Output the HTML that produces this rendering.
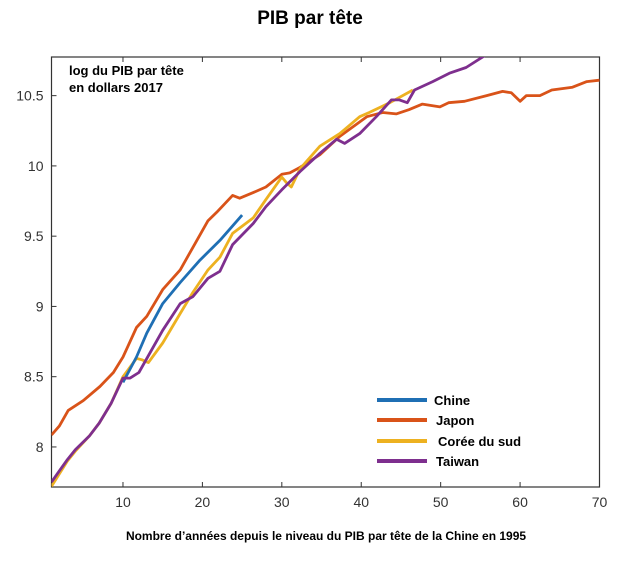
<!DOCTYPE html>
<html><head><meta charset="utf-8"><style>
body{margin:0;background:#fff;}
svg{display:block;font-family:"Liberation Sans",Arial,sans-serif;}
</style></head><body>
<svg id="chart" width="620" height="562" viewBox="0 0 620 562">
<text x="310" y="24" text-anchor="middle" font-size="19" font-weight="bold">PIB par tête</text>
<rect x="51.5" y="57" width="548" height="430" fill="none" stroke="#333" stroke-width="1.2"/>
<text x="69" y="75" font-size="13" font-weight="bold">log du PIB par tête</text>
<text x="69" y="92" font-size="13" font-weight="bold">en dollars 2017</text>
<g id="axes"></g>
<g id="series"></g>
<g id="legend"></g>
<text x="326" y="540" text-anchor="middle" font-size="12" font-weight="bold">Nombre d’années depuis le niveau du PIB par tête de la Chine en 1995</text>
</svg>
<script>
const xTicks=[10,20,30,40,50,60,70];
const yTicks=[8,8.5,9,9.5,10,10.5];
const yTickLabels=["8","8.5","9","9.5","10","10.5"];
const seriesNames=["Chine","Japon","Corée du sud","Taiwan"];
const seriesColors=["#1f6fb4","#d95319","#edb120","#7e2f8e"];
const chinaX=[10,11.7,13,15,17.2,19.7,22.2,25];
const chinaY=[8.46,8.64,8.81,9.02,9.17,9.33,9.47,9.65];
const japanX=[1,2,3.1,5,7.1,8.8,10,11.7,13,15,17.2,18.8,20.7,21.8,23.8,24.7,26.4,28,30,31,32.3,34.8,37.3,40.7,42.7,44.4,46,47.7,49.9,51,53,55.8,57.8,58.9,60,60.8,62.5,64,66.6,68.4,70];
const japanY=[8.085,8.15,8.26,8.33,8.43,8.53,8.64,8.85,8.93,9.12,9.26,9.42,9.61,9.67,9.79,9.77,9.81,9.85,9.94,9.95,9.99,10.08,10.21,10.35,10.38,10.37,10.4,10.44,10.42,10.45,10.46,10.5,10.53,10.52,10.46,10.5,10.5,10.54,10.56,10.6,10.61];
const koreaX=[1,2,3,4,5.8,7,8.5,10,11.7,12.4,13.2,15,17.2,18.8,20.7,22.2,23.8,26.4,28,30,30.6,31.2,32.3,34.8,37.3,39.8,41,43.6,46.5];
const koreaY=[7.72,7.81,7.9,7.97,8.08,8.17,8.31,8.5,8.63,8.62,8.6,8.74,8.95,9.1,9.26,9.35,9.52,9.63,9.76,9.92,9.88,9.85,9.98,10.14,10.23,10.35,10.38,10.45,10.54];
const taiwanX=[1,2,3,4,5.8,7,8.5,10,10.9,12,15,17.2,18.8,20.7,22.2,23.8,26.4,28,30,32.3,34.8,36.9,37.9,39.8,41.9,43.8,44.8,45.8,46.7,49,51.1,53.2,55.7];
const taiwanY=[7.75,7.83,7.91,7.98,8.08,8.17,8.31,8.49,8.49,8.53,8.83,9.02,9.07,9.2,9.25,9.44,9.59,9.71,9.83,9.96,10.09,10.19,10.16,10.23,10.35,10.47,10.47,10.45,10.54,10.6,10.66,10.7,10.79];

const NS="http://www.w3.org/2000/svg";
const X0=51.5,X1=599.5,Y0=487,Y1=57,XMIN=1,XMAX=70,YMIN=7.715,YMAX=10.775;
function sx(v){return X0+(v-XMIN)/(XMAX-XMIN)*(X1-X0);}
function sy(v){return Y0-(v-YMIN)/(YMAX-YMIN)*(Y0-Y1);}
function mk(t,a,p){const e=document.createElementNS(NS,t);for(const k in a)e.setAttribute(k,a[k]);p.appendChild(e);return e;}
const axes=document.getElementById('axes');
xTicks.forEach(v=>{
  const l=mk('line',{x1:sx(v),x2:sx(v),y1:Y0,y2:Y0-5,stroke:'#333'},axes);
  
  
  const l2=mk('line',{x1:sx(v),x2:sx(v),y1:Y1,y2:Y1+5,stroke:'#333'},axes);
  
  
  const t=mk('text',{x:sx(v),y:Y0+20,'text-anchor':'middle','font-size':14,fill:'#333'},axes);
  t.textContent=String(v);
  
  
});
yTicks.forEach((v,i)=>{
  const l=mk('line',{x1:X0,x2:X0+5,y1:sy(v),y2:sy(v),stroke:'#333'},axes);
  
  
  const t=mk('text',{x:X0-8,y:sy(v)+5,'text-anchor':'end','font-size':14,fill:'#333'},axes);
  t.textContent=yTickLabels[i];
  
  
});
const ser=document.getElementById('series');
mk('clipPath',{id:'clip'},ser).appendChild(document.createElementNS(NS,'rect'));
const cr=ser.querySelector('#clip rect');cr.setAttribute('x',X0);cr.setAttribute('y',Y1);cr.setAttribute('width',X1-X0);cr.setAttribute('height',Y0-Y1);
const data=[[chinaX,chinaY],[japanX,japanY],[koreaX,koreaY],[taiwanX,taiwanY]];
const ids=['china-line','japan-line','korea-line','taiwan-line'];
const order=[1,2,0,3];
order.forEach(i=>{
  const [xs,ys]=data[i];
  const pts=xs.map((x,j)=>sx(x).toFixed(1)+','+sy(ys[j]).toFixed(1)).join(' ');
  const p=mk('polyline',{points:pts,fill:'none',stroke:seriesColors[i],'stroke-width':2.8,'stroke-linejoin':'round','clip-path':'url(#clip)'},ser);
  
  
});
const leg=document.getElementById('legend');
const legY=[400,420,441,461];
seriesNames.forEach((n,i)=>{
  const l=mk('line',{x1:377,x2:427,y1:legY[i],y2:legY[i],stroke:seriesColors[i],'stroke-width':4},leg);
  
  
  const t=mk('text',{x:i==2?438:i==0?434:436,y:legY[i]+5,'font-size':13,'font-weight':'bold'},leg);
  t.textContent=n;
  
  
});
</script>
</body></html>
